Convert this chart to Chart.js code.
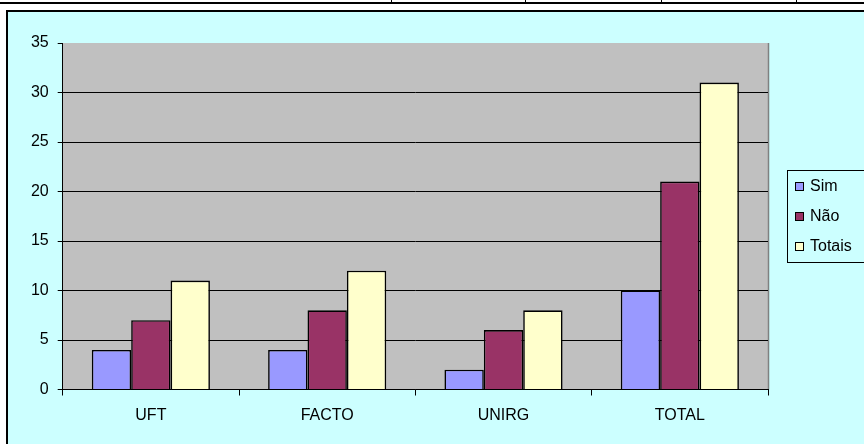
<!DOCTYPE html>
<html>
<head>
<meta charset="utf-8">
<script src="https://cdn.jsdelivr.net/npm/chart.js@4/dist/chart.umd.min.js"></script>
<style>
html,body{margin:0;padding:0;background:#ffffff;}
#wrap{position:absolute;left:0;top:0;width:864px;height:444px;}
</style>
</head>
<body>
<div id="wrap"><canvas id="c" width="864" height="444"></canvas></div>
<script>
const categories = ["UFT", "FACTO", "UNIRG", "TOTAL"];
const seriesNames = ["Sim", "Não", "Totais"];
const simValues = [4, 4, 2, 10];
const naoValues = [7, 8, 6, 21];
const totaisValues = [11, 12, 8, 31];
const seriesColors = ["#9999FF", "#993366", "#FFFFCC"];
const yTicks = [0, 5, 10, 15, 20, 25, 30, 35];

const FONT = "'Liberation Sans', Arial, sans-serif";

const decor = {
  id: 'decor',
  beforeDraw(chart) {
    const ctx = chart.ctx;
    const a = chart.chartArea;
    ctx.save();
    ctx.fillStyle = '#ffffff';
    ctx.fillRect(0, 0, 864, 444);
    // table line at top
    ctx.fillStyle = '#000000';
    ctx.fillRect(0, 2, 864, 2);
    [391, 525, 661, 796].forEach(x => ctx.fillRect(x, 0, 1, 3));
    // chart box
    ctx.fillStyle = '#CCFFFF';
    ctx.fillRect(6, 10, 870, 440);
    ctx.strokeStyle = '#000000';
    ctx.lineWidth = 2;
    ctx.strokeRect(7, 11, 870, 440);
    // plot area
    ctx.fillStyle = '#C0C0C0';
    ctx.fillRect(a.left, a.top, a.right - a.left, a.bottom - a.top);
    ctx.strokeStyle = '#808080';
    ctx.lineWidth = 1.5;
    ctx.beginPath();
    ctx.moveTo(a.right + 0.5, a.top);
    ctx.lineTo(a.right + 0.5, a.bottom);
    ctx.stroke();
    ctx.restore();
  },
  afterDraw(chart) {
    const ctx = chart.ctx;
    ctx.save();
    ctx.fillStyle = '#CCFFFF';
    ctx.fillRect(787, 170, 90, 92);
    ctx.strokeStyle = '#000000';
    ctx.lineWidth = 1;
    ctx.strokeRect(787.5, 170.5, 90, 92);
    ctx.font = '16px ' + FONT;
    ctx.textBaseline = 'middle';
    ctx.textAlign = 'left';
    chart.data.datasets.forEach((ds, i) => {
      const cy = 186 + i * 30;
      ctx.fillStyle = ds.backgroundColor;
      ctx.fillRect(795, cy - 4, 8, 8);
      ctx.strokeStyle = '#000000';
      ctx.strokeRect(795.5, cy - 3.5, 8, 8);
      ctx.fillStyle = '#000000';
      ctx.fillText(ds.label, 810, cy + 1);
    });
    ctx.restore();
  }
};

new Chart(document.getElementById('c'), {
  type: 'bar',
  data: {
    labels: categories,
    datasets: [
      { label: seriesNames[0], data: simValues, backgroundColor: seriesColors[0] },
      { label: seriesNames[1], data: naoValues, backgroundColor: seriesColors[1] },
      { label: seriesNames[2], data: totaisValues, backgroundColor: seriesColors[2] }
    ].map(d => Object.assign(d, { borderColor: '#000000', borderWidth: 1.6, categoryPercentage: 0.67, barPercentage: 1.0 }))
  },
  options: {
    responsive: false,
    animation: false,
    devicePixelRatio: 1,
    layout: { padding: { left: 6, top: 43, right: 96, bottom: 0 } },
    plugins: { legend: { display: false }, tooltip: { enabled: false } },
    scales: {
      x: {
        grid: { display: true, drawOnChartArea: false, offset: true, color: '#000000', tickLength: 6, lineWidth: 1 },
        border: { display: true, color: '#000000', width: 1 },
        ticks: { color: '#000000', font: { family: FONT, size: 16 }, padding: 10, maxRotation: 0 },
        afterFit(s) { s.height = 54.5; }
      },
      y: {
        min: 0, max: 35,
        afterBuildTicks(s) { s.ticks = yTicks.map(v => ({ value: v })); },
        grid: {
          color: ctx => (ctx.tick && ctx.tick.value === 35) ? 'rgba(0,0,0,0)' : '#000000',
          tickColor: '#000000', tickLength: 5, lineWidth: 1
        },
        border: { display: true, color: '#000000', width: 1 },
        ticks: { color: '#000000', font: { family: FONT, size: 16 }, padding: 9 },
        afterFit(s) { s.width = 56.7; }
      }
    }
  },
  plugins: [decor]
});
</script>
</body>
</html>
